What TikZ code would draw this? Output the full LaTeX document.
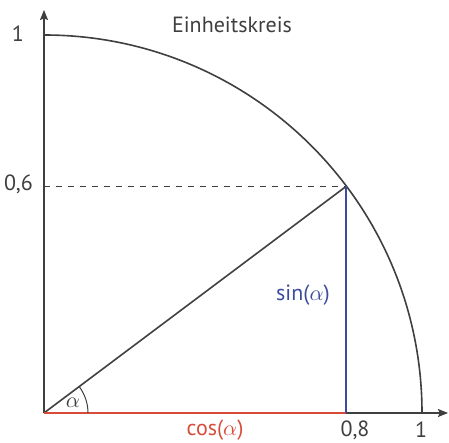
\documentclass[tikz,border=0pt]{standalone}
\usepackage{fontspec}
\setmainfont{PT Sans}
\usetikzlibrary{arrows.meta, calc}
\definecolor{lineGray}{HTML}{3F3F3F}
\definecolor{sinBlue}{HTML}{3C4B9E}
\definecolor{cosRed}{HTML}{D84B3A}

\begin{document}
\begin{tikzpicture}[x=0.5pt, y=0.5pt, font=\fontsize{11}{13}\selectfont, text=lineGray, draw=lineGray,
    axis/.style={line width=0.6pt, -{Stealth[length=5pt, width=4pt, inset=0.8pt]}},
    curve/.style={line width=0.8pt}]
  \useasboundingbox (0,0) rectangle (449,443);
  % Ursprung, Punkt auf dem Kreis und Fusspunkte
  \coordinate (O) at (44,30);
  \coordinate (xEnd) at (448,30);
  \coordinate (yEnd) at (44,433);
  \coordinate (xOne) at (422,30);
  \coordinate (P) at ($(O)+(0.8*378,0.6*378)$);
  \coordinate (Q) at (P |- O);
  \coordinate (S) at (P -| O);

  \draw[axis] (O) -- (xEnd);
  \draw[axis] (O) -- (yEnd);
  \draw[curve] (xOne) arc[start angle=0, end angle=90, radius=378];
  \draw[line width=0.5pt, dashed] (S) -- (P);
  \draw[curve] (O) -- (P);
  \draw[line width=1pt, cosRed] (O) -- (Q);
  \draw[line width=1pt, sinBlue] (Q) -- (P);
  \draw[line width=0.5pt] ($(O)+(44,0)$) arc[start angle=0, end angle=36.87, radius=44];

  \node[anchor=east] (yOneLbl) at (31,409) {1};
  \node[anchor=east] (ySixLbl) at (40,259) {0,6};
  \node (titleLbl) at (232,418) {Einheitskreis};
  \node (alphaLbl) at (73,40) {$\alpha$};
  \node[text=sinBlue] (sinLbl) at (303,148) {sin($\alpha$)};
  \node[text=cosRed] (cosLbl) at (215,13) {cos($\alpha$)};
  \node (xEightLbl) at (355,13) {0,8};
  \node (xOneLbl) at (421,13) {1};
\end{tikzpicture}
\end{document}
